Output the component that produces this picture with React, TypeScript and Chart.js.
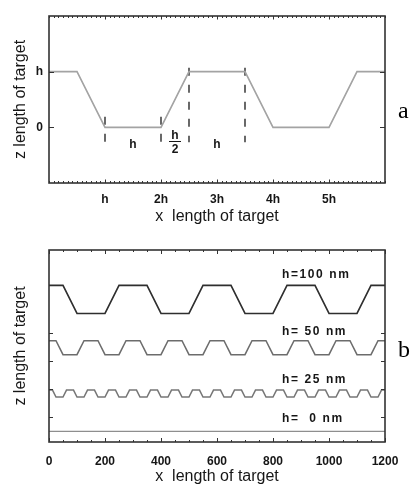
import React, { useEffect, useRef } from "react";
import { Chart, registerables } from "chart.js";

Chart.register(...registerables);

// ---------- Panel a (lengths in units of h) ----------
const A_PROFILE_X = [0, 0.5, 1, 2, 2.5, 3.5, 4, 5, 5.5, 6];
const A_PROFILE_Z = [1, 1, 0, 0, 1, 1, 0, 0, 1, 1];
const A_MARKER_X = [1, 2, 2.5, 3.5];
const A_MARKER_TOP = [0.19, 0.19, 1.07, 1.07];
const A_MARKER_BOTTOM = -0.27;
const A_X_TICKS = [1, 2, 3, 4, 5];
const A_X_LABELS = ["h", "2h", "3h", "4h", "5h"];
const A_Y_TICKS = [0, 1];
const A_Y_LABELS = ["0", "h"];
const A_NOTE_TEXT = ["h", "h", "2", "h"];
const A_NOTE_X = [1.5, 2.25, 2.25, 3];
const A_NOTE_Y = [-0.38, -0.207, -0.47, -0.38];

// ---------- Panel b (nm) ----------
const B_X_TICKS = [0, 200, 400, 600, 800, 1000, 1200];
const B_X_LABELS = ["0", "200", "400", "600", "800", "1000", "1200"];
const B_Y_TICKS = [50, 150, 250, 350];
const H100_X = [0, 50, 100, 200, 250, 350, 400, 500, 550, 650, 700, 800, 850, 950, 1000, 1100, 1150, 1200];
const H100_Z = [520, 520, 420, 420, 520, 520, 420, 420, 520, 520, 420, 420, 520, 520, 420, 420, 520, 520];
const H50_X = [0, 25, 50, 100, 125, 175, 200, 250, 275, 325, 350, 400, 425, 475, 500, 550, 575, 625, 650, 700, 725, 775, 800, 850, 875, 925, 950, 1000, 1025, 1075, 1100, 1150, 1175, 1200];
const H50_Z = [323, 323, 273, 273, 323, 323, 273, 273, 323, 323, 273, 273, 323, 323, 273, 273, 323, 323, 273, 273, 323, 323, 273, 273, 323, 323, 273, 273, 323, 323, 273, 273, 323, 323];
const H25_X = [0, 12.5, 25, 50, 62.5, 87.5, 100, 125, 137.5, 162.5, 175, 200, 212.5, 237.5, 250, 275, 287.5, 312.5, 325, 350, 362.5, 387.5, 400, 425, 437.5, 462.5, 475, 500, 512.5, 537.5, 550, 575, 587.5, 612.5, 625, 650, 662.5, 687.5, 700, 725, 737.5, 762.5, 775, 800, 812.5, 837.5, 850, 875, 887.5, 912.5, 925, 950, 962.5, 987.5, 1000, 1025, 1037.5, 1062.5, 1075, 1100, 1112.5, 1137.5, 1150, 1175, 1187.5, 1200];
const H25_Z = [147, 147, 122, 122, 147, 147, 122, 122, 147, 147, 122, 122, 147, 147, 122, 122, 147, 147, 122, 122, 147, 147, 122, 122, 147, 147, 122, 122, 147, 147, 122, 122, 147, 147, 122, 122, 147, 147, 122, 122, 147, 147, 122, 122, 147, 147, 122, 122, 147, 147, 122, 122, 147, 147, 122, 122, 147, 147, 122, 122, 147, 147, 122, 122, 147, 147];
const H0_X = [0, 1200];
const H0_Z = [0, 0];
const B_NOTE_TEXT = ["h=100 nm", "h= 50 nm", "h= 25 nm", "h=  0 nm"];
const B_NOTE_X = 832;
const B_NOTE_Y = [545, 343, 171, 33];

const SANS = '"Liberation Sans", Arial, sans-serif';
const TICKFONT = '"Liberation Sans", Arial, sans-serif';
const INK = "#161616";

const zip = (xs: number[], ys: number[]) => xs.map((x, i) => ({ x, y: ys[i] }));

type FrameCfg = {
  xMajor: number[];
  xMinorStep: number;
  yMajor: number[];
  majorLen: number;
  minorLen: number;
  yLen: number;
};

function framePlugin(cfg: FrameCfg) {
  return {
    id: "frame",
    afterDatasetsDraw(chart: any) {
      const { ctx, chartArea } = chart;
      const { left, right, top, bottom } = chartArea;
      const x = chart.scales.x;
      const y = chart.scales.y;
      ctx.save();
      ctx.strokeStyle = "#333";
      ctx.lineWidth = 1;
      ctx.beginPath();
      for (let v = x.min; v <= x.max + 1e-9; v += cfg.xMinorStep) {
        const px = Math.round(x.getPixelForValue(v)) + 0.5;
        ctx.moveTo(px, bottom);
        ctx.lineTo(px, bottom - cfg.minorLen);
        ctx.moveTo(px, top);
        ctx.lineTo(px, top + cfg.minorLen);
      }
      for (const v of cfg.xMajor) {
        const px = Math.round(x.getPixelForValue(v)) + 0.5;
        ctx.moveTo(px, bottom);
        ctx.lineTo(px, bottom - cfg.majorLen);
        ctx.moveTo(px, top);
        ctx.lineTo(px, top + cfg.majorLen);
      }
      for (const v of cfg.yMajor) {
        const py = Math.round(y.getPixelForValue(v)) + 0.5;
        ctx.moveTo(left, py);
        ctx.lineTo(left + cfg.yLen, py);
        ctx.moveTo(right, py);
        ctx.lineTo(right - cfg.yLen, py);
      }
      ctx.stroke();
      ctx.lineWidth = 1.6;
      ctx.strokeStyle = "#333";
      ctx.strokeRect(left, top, right - left, bottom - top);
      ctx.restore();
    },
  };
}

const notesA = {
  id: "notesA",
  afterDatasetsDraw(chart: any) {
    const { ctx } = chart;
    const x = chart.scales.x;
    const y = chart.scales.y;
    ctx.save();
    ctx.fillStyle = INK;
    ctx.font = `bold 12px ${TICKFONT}`;
    ctx.textAlign = "center";
    ctx.textBaseline = "alphabetic";
    A_NOTE_TEXT.forEach((t, i) => {
      ctx.fillText(t, x.getPixelForValue(A_NOTE_X[i]), y.getPixelForValue(A_NOTE_Y[i]));
    });
    // fraction bar of h/2
    const cx = x.getPixelForValue(2.25);
    const by = Math.round(y.getPixelForValue(-0.237)) + 0.5;
    ctx.strokeStyle = INK;
    ctx.lineWidth = 1;
    ctx.beginPath();
    ctx.moveTo(cx - 6, by);
    ctx.lineTo(cx + 6, by);
    ctx.stroke();
    // panel letter
    ctx.font = '24px "Liberation Serif", serif';
    ctx.textAlign = "left";
    ctx.fillStyle = "#000";
    ctx.fillText("a", 398, 118);
    ctx.restore();
  },
};

const notesB = {
  id: "notesB",
  afterDatasetsDraw(chart: any) {
    const { ctx } = chart;
    const x = chart.scales.x;
    const y = chart.scales.y;
    ctx.save();
    ctx.fillStyle = INK;
    ctx.font = `bold 12px ${TICKFONT}`;
    ctx.textAlign = "left";
    ctx.textBaseline = "alphabetic";
    (ctx as any).letterSpacing = "1.6px";
    B_NOTE_TEXT.forEach((t, i) => {
      ctx.fillText(t, x.getPixelForValue(B_NOTE_X), y.getPixelForValue(B_NOTE_Y[i]));
    });
    (ctx as any).letterSpacing = "0px";
    ctx.font = '24px "Liberation Serif", serif';
    ctx.fillStyle = "#000";
    ctx.fillText("b", 398, 117);
    ctx.restore();
  },
};

function lineDs(data: { x: number; y: number }[], color: string, width: number, dash: number[] = []) {
  return {
    data,
    showLine: true,
    borderColor: color,
    backgroundColor: color,
    borderWidth: width,
    borderDash: dash,
    pointRadius: 0,
    pointHoverRadius: 0,
    fill: false,
    tension: 0,
  };
}

function makeChartA(canvas: HTMLCanvasElement) {
  const datasets: any[] = [lineDs(zip(A_PROFILE_X, A_PROFILE_Z), "#a3a3a3", 1.6)];
  A_MARKER_X.forEach((mx, i) => {
    datasets.push(
      lineDs(
        [
          { x: mx, y: A_MARKER_TOP[i] },
          { x: mx, y: A_MARKER_BOTTOM },
        ],
        "#2a2a2a",
        1.4,
        [8, 9]
      )
    );
  });
  return new Chart(canvas, {
    type: "scatter",
    data: { datasets },
    options: {
      animation: false,
      responsive: false,
      devicePixelRatio: 1,
      events: [],
      layout: { padding: { left: 0, right: 32, top: 16, bottom: 0 } },
      plugins: { legend: { display: false }, tooltip: { enabled: false } },
      scales: {
        x: {
          type: "linear",
          position: "bottom",
          min: 0,
          max: 6,
          grid: { display: false, drawTicks: false },
          border: { display: false },
          afterBuildTicks: (s: any) => {
            s.ticks = A_X_TICKS.map((v) => ({ value: v }));
          },
          afterFit: (s: any) => {
            s.height = 57;
          },
          ticks: {
            autoSkip: false,
            maxRotation: 0,
            padding: 9,
            color: INK,
            font: { family: TICKFONT, size: 12, weight: "bold" },
            callback: (v: any) => {
              const i = A_X_TICKS.indexOf(Number(v));
              return i >= 0 ? A_X_LABELS[i] : "";
            },
          },
          title: {
            display: true,
            text: "x  length of target",
            color: INK,
            font: { family: SANS, size: 16 },
            padding: { top: 0, bottom: 14 },
          },
        },
        y: {
          type: "linear",
          position: "left",
          min: -1,
          max: 2,
          grid: { display: false, drawTicks: false },
          border: { display: false },
          afterBuildTicks: (s: any) => {
            s.ticks = A_Y_TICKS.map((v) => ({ value: v }));
          },
          afterFit: (s: any) => {
            s.width = 49;
          },
          ticks: {
            padding: 6,
            color: INK,
            font: { family: TICKFONT, size: 12, weight: "bold" },
            callback: (v: any) => {
              const i = A_Y_TICKS.indexOf(Number(v));
              return i >= 0 ? A_Y_LABELS[i] : "";
            },
          },
          title: {
            display: true,
            text: "z length of target",
            color: INK,
            font: { family: SANS, size: 16 },
            padding: { top: 11, bottom: 0 },
          },
        },
      },
    },
    plugins: [
      framePlugin({ xMajor: A_X_TICKS, xMinorStep: 1 / 12, yMajor: A_Y_TICKS, majorLen: 3.5, minorLen: 2, yLen: 5 }),
      notesA,
    ],
  } as any);
}

function makeChartB(canvas: HTMLCanvasElement) {
  const datasets: any[] = [
    lineDs(zip(H100_X, H100_Z), "#2e2e2e", 1.6),
    lineDs(zip(H50_X, H50_Z), "#6c6c6c", 1.5),
    lineDs(zip(H25_X, H25_Z), "#777777", 1.5),
    lineDs(zip(H0_X, H0_Z), "#8e8e8e", 1.1),
  ];
  return new Chart(canvas, {
    type: "scatter",
    data: { datasets },
    options: {
      animation: false,
      responsive: false,
      devicePixelRatio: 1,
      events: [],
      layout: { padding: { left: 0, right: 32, top: 10, bottom: 0 } },
      plugins: { legend: { display: false }, tooltip: { enabled: false } },
      scales: {
        x: {
          type: "linear",
          position: "bottom",
          min: 0,
          max: 1200,
          grid: { display: false, drawTicks: false },
          border: { display: false },
          afterBuildTicks: (s: any) => {
            s.ticks = B_X_TICKS.map((v) => ({ value: v }));
          },
          afterFit: (s: any) => {
            s.height = 45;
          },
          ticks: {
            autoSkip: false,
            maxRotation: 0,
            padding: 12,
            color: INK,
            font: { family: TICKFONT, size: 12, weight: "bold" },
            callback: (v: any) => {
              const i = B_X_TICKS.indexOf(Number(v));
              return i >= 0 ? B_X_LABELS[i] : "";
            },
          },
          title: {
            display: true,
            text: "x  length of target",
            color: INK,
            font: { family: SANS, size: 16 },
            padding: { top: 0, bottom: 1 },
          },
        },
        y: {
          type: "linear",
          position: "left",
          min: -38,
          max: 646,
          grid: { display: false, drawTicks: false },
          border: { display: false },
          afterFit: (s: any) => {
            s.width = 49;
          },
          ticks: { display: false },
          title: {
            display: true,
            text: "z length of target",
            color: INK,
            font: { family: SANS, size: 16 },
            padding: { top: 11, bottom: 0 },
          },
        },
      },
    },
    plugins: [
      framePlugin({ xMajor: B_X_TICKS, xMinorStep: 50, yMajor: B_Y_TICKS, majorLen: 4, minorLen: 2, yLen: 4 }),
      notesB,
    ],
  } as any);
}

export default function App() {
  const refA = useRef<HTMLCanvasElement | null>(null);
  const refB = useRef<HTMLCanvasElement | null>(null);
  useEffect(() => {
    const a = makeChartA(refA.current!);
    const b = makeChartB(refB.current!);
    return () => {
      a.destroy();
      b.destroy();
    };
  }, []);
  return (
    <div style={{ position: "absolute", left: 0, top: 0, width: 417, height: 487, background: "#fff" }}>
      <canvas ref={refA} width={417} height={240} style={{ position: "absolute", left: 0, top: 0, width: 417, height: 240 }} />
      <canvas ref={refB} width={417} height={247} style={{ position: "absolute", left: 0, top: 240, width: 417, height: 247 }} />
    </div>
  );
}
